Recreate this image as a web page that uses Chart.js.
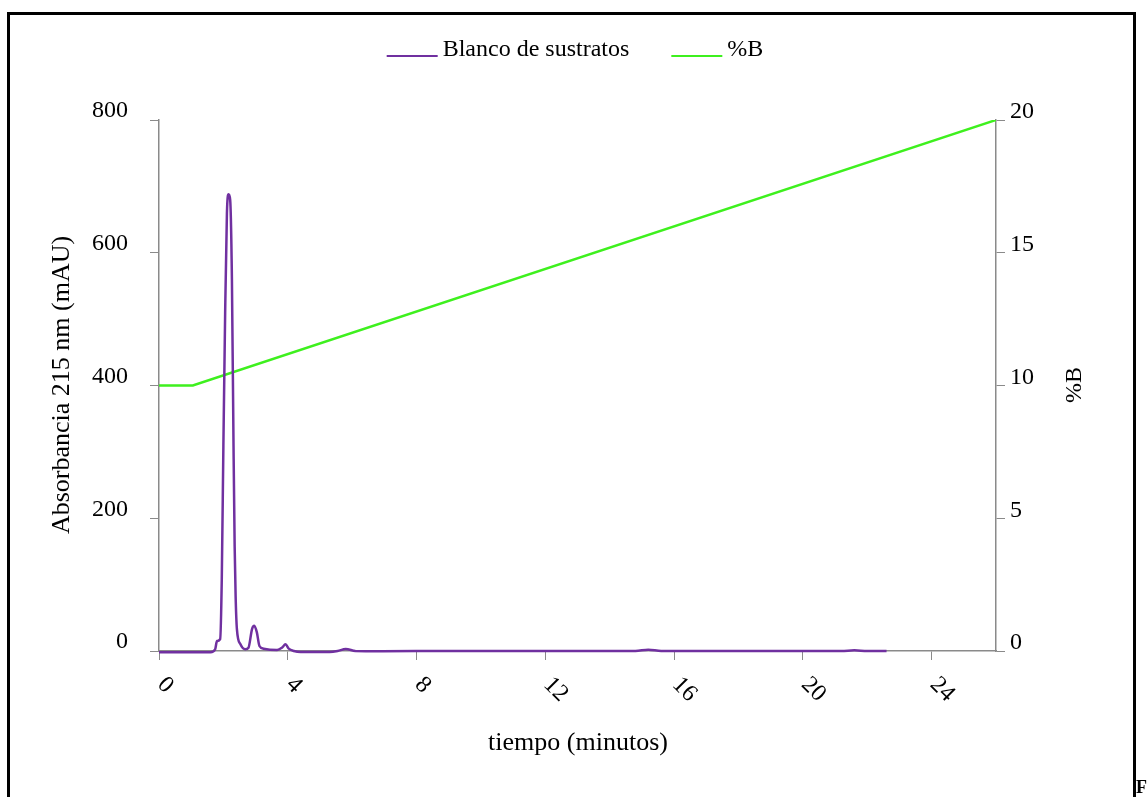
<!DOCTYPE html>
<html>
<head>
<meta charset="utf-8">
<script src="https://cdn.jsdelivr.net/npm/chart.js@4.4.1/dist/chart.umd.min.js"></script>
<style>
  html, body { margin: 0; padding: 0; background: #fff; }
  canvas { display: block; }
</style>
</head>
<body>
<canvas id="chroma" width="1147" height="797"></canvas>
<script>
// Chromatogram of the substrate blank (215 nm) with the %B gradient
const timeMin = [
  0, 1.0, 1.6, 1.745, 1.8, 1.9, 1.95, 2.0, 2.055, 2.11, 2.16, 2.21, 2.265,
  2.315, 2.35, 2.38, 2.42, 2.53, 2.68, 2.78, 2.89, 2.96, 3.04, 3.12, 3.25,
  3.67, 3.82, 3.93, 4.03, 4.19, 4.4, 5.3, 5.55, 5.8, 6.1, 6.5, 8, 10, 12,
  14.8, 15.2, 15.6, 18, 21.2, 21.6, 22.0, 22.6,
];
const absorbance = [
  -2, -2, -2, 2.6, 15, 18, 108, 309, 510, 660, 688, 680, 560,
  309, 158, 83, 33, 10, 2.6, 5, 33, 38, 28, 7.5, 3.5,
  1.5, 5, 10, 3.5, 0, -1.5, -1.5, 0, 3, 0, -0.5, 0, 0, 0,
  0, 2, 0, 0, 0, 1, 0, 0,
];

const gradientTime = [0, 1.05, 26];
const gradientB = [10, 10, 20];

const xTicks = [0, 4, 8, 12, 16, 20, 24];
const absTicks = [0, 200, 400, 600, 800];
const bTicks = [0, 5, 10, 15, 20];

const SERIF = "'Liberation Serif', 'DejaVu Serif', serif";
const AXIS_GREY = "#8a8a8a";

function toPoints(xs, ys) {
  return xs.map((x, i) => ({ x: x, y: ys[i] }));
}

// white page, outer frame and the clipped caption letter
const pagePlugin = {
  id: "page",
  beforeDraw(chart) {
    const ctx = chart.ctx;
    ctx.save();
    ctx.fillStyle = "#fff";
    ctx.fillRect(0, 0, chart.width, chart.height);
    ctx.restore();
  },
  afterDraw(chart) {
    const ctx = chart.ctx;
    ctx.save();
    ctx.strokeStyle = "#000";
    ctx.lineWidth = 3;
    ctx.strokeRect(8.5, 13.5, 1126, 900);
    ctx.fillStyle = "#000";
    ctx.font = "bold 18px " + SERIF;
    ctx.textBaseline = "alphabetic";
    ctx.fillText("F", 1136, 793);
    ctx.restore();
  },
};

// slanted x tick labels, axis titles and the legend
const labelsPlugin = {
  id: "labels",
  afterDraw(chart) {
    const ctx = chart.ctx;
    const x = chart.scales.x;
    ctx.save();
    ctx.fillStyle = "#000";

    ctx.font = "24px " + SERIF;
    ctx.textAlign = "left";
    ctx.textBaseline = "middle";
    xTicks.forEach((v) => {
      const px = x.getPixelForValue(v);
      ctx.save();
      ctx.translate(px + 2, 681);
      ctx.rotate(Math.PI / 4);
      ctx.fillText(String(v), 0, 0);
      ctx.restore();
    });

    ctx.font = "26px " + SERIF;
    ctx.textAlign = "center";
    ctx.fillText("tiempo (minutos)", 578, 743);

    ctx.save();
    ctx.translate(62, 385);
    ctx.rotate(-Math.PI / 2);
    ctx.fillText("Absorbancia 215 nm (mAU)", 0, 0);
    ctx.restore();

    ctx.font = "24px " + SERIF;
    ctx.save();
    ctx.translate(1075, 385);
    ctx.rotate(-Math.PI / 2);
    ctx.fillText("%B", 0, 0);
    ctx.restore();

    // legend
    const lineLen = 51, gap = 5, itemGap = 42, baseY = 56;
    ctx.textAlign = "left";
    ctx.textBaseline = "alphabetic";
    const items = chart.data.datasets.map((ds) => ({
      label: ds.label,
      color: ds.borderColor,
      w: lineLen + gap + ctx.measureText(ds.label).width,
    }));
    const total = items.reduce((s, it) => s + it.w, 0) + itemGap * (items.length - 1);
    let cx = 575 - total / 2;
    items.forEach((it) => {
      ctx.strokeStyle = it.color;
      ctx.lineWidth = 2;
      ctx.beginPath();
      ctx.moveTo(cx, baseY);
      ctx.lineTo(cx + lineLen, baseY);
      ctx.stroke();
      ctx.fillText(it.label, cx + lineLen + gap, baseY);
      cx += it.w + itemGap;
    });
    ctx.restore();
  },
};

function initChart() {
  const ctx = document.getElementById("chroma").getContext("2d");

  new Chart(ctx, {
    type: "line",
    data: {
      datasets: [
        {
          label: "Blanco de sustratos",
          data: toPoints(timeMin, absorbance),
          yAxisID: "y",
          borderColor: "#7030A0",
          borderWidth: 2.5,
          pointRadius: 0,
          cubicInterpolationMode: "monotone",
          fill: false,
          clip: { left: 0, top: 0, right: 0, bottom: 4 },
        },
        {
          label: "%B",
          data: toPoints(gradientTime, gradientB),
          yAxisID: "y1",
          borderColor: "#3EF01E",
          borderWidth: 2.5,
          pointRadius: 0,
          tension: 0,
          fill: false,
        },
      ],
    },
    options: {
      responsive: false,
      animation: false,
      devicePixelRatio: 1,
      layout: { padding: { top: 120, left: 0, right: 0, bottom: 0 } },
      plugins: {
        legend: { display: false },
        tooltip: { enabled: false },
      },
      scales: {
        x: {
          type: "linear",
          min: 0,
          max: 26,
          afterBuildTicks: (scale) => {
            scale.ticks = xTicks.map((v) => ({ value: v }));
          },
          afterFit: (scale) => {
            scale.height = 146;
          },
          ticks: { display: false },
          grid: {
            drawOnChartArea: false,
            drawTicks: true,
            tickLength: 9,
            color: AXIS_GREY,
          },
          border: { color: AXIS_GREY, width: 1.5 },
        },
        y: {
          position: "left",
          min: 0,
          max: 800,
          afterBuildTicks: (scale) => {
            scale.ticks = absTicks.map((v) => ({ value: v }));
          },
          afterFit: (scale) => {
            scale.width = 159;
          },
          ticks: {
            color: "#000",
            padding: 22,
            labelOffset: -9,
            font: { family: SERIF, size: 24 },
          },
          grid: {
            drawOnChartArea: false,
            drawTicks: true,
            tickLength: 9,
            color: AXIS_GREY,
          },
          border: { color: AXIS_GREY, width: 1.5 },
        },
        y1: {
          position: "right",
          min: 0,
          max: 20,
          afterBuildTicks: (scale) => {
            scale.ticks = bTicks.map((v) => ({ value: v }));
          },
          afterFit: (scale) => {
            scale.width = 151;
          },
          ticks: {
            color: "#000",
            padding: 5,
            labelOffset: -8,
            font: { family: SERIF, size: 24 },
          },
          grid: {
            drawOnChartArea: false,
            drawTicks: true,
            tickLength: 9,
            color: AXIS_GREY,
          },
          border: { color: AXIS_GREY, width: 1.5 },
        },
      },
    },
    plugins: [pagePlugin, labelsPlugin],
  });
}

document.addEventListener("DOMContentLoaded", initChart);
</script>
</body>
</html>
